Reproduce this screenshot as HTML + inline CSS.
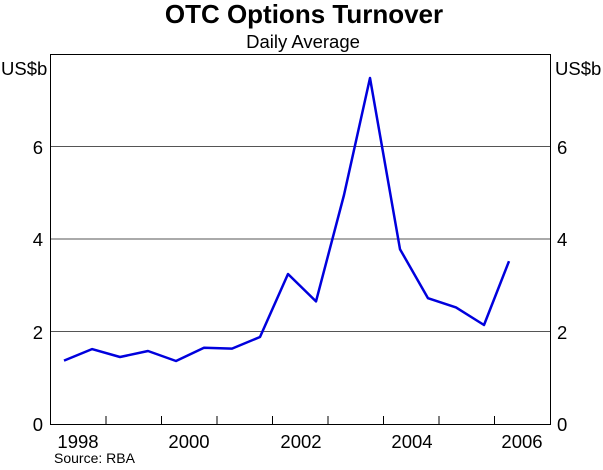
<!DOCTYPE html>
<html><head><meta charset="utf-8"><style>
body{margin:0;background:#fff;}
svg text{font-family:"Liberation Sans",Arial,sans-serif;fill:#000;}
</style></head><body>
<svg width="603" height="465" xmlns="http://www.w3.org/2000/svg">
<rect width="603" height="465" fill="#fff"/>
<text x="304" y="23" font-size="26" font-weight="bold" text-anchor="middle">OTC Options Turnover</text>
<text x="303" y="48" font-size="18.5" text-anchor="middle">Daily Average</text>
<g stroke="#000" stroke-width="1">
<line x1="50" y1="146.5" x2="550" y2="146.5" stroke="#555"/>
<line x1="50" y1="239" x2="550" y2="239" stroke="#555"/>
<line x1="50" y1="331.5" x2="550" y2="331.5" stroke="#555"/>
<rect x="50.5" y="54.5" width="500" height="370" fill="none"/>
<path d="M106,424v-8M161.5,424v-8M217,424v-8M272.5,424v-8M328,424v-8M383.5,424v-8M439,424v-8M494.5,424v-8"/>
</g>
<g font-size="18.5">
<text x="1" y="75">US$b</text>
<text x="555" y="75">US$b</text>
<text x="43" y="154" text-anchor="end">6</text>
<text x="43" y="246" text-anchor="end">4</text>
<text x="43" y="339" text-anchor="end">2</text>
<text x="43" y="431" text-anchor="end">0</text>
<text x="557" y="154">6</text>
<text x="557" y="246">4</text>
<text x="557" y="339">2</text>
<text x="557" y="431">0</text>
<text x="78" y="448" text-anchor="middle">1998</text>
<text x="189" y="448" text-anchor="middle">2000</text>
<text x="301" y="448" text-anchor="middle">2002</text>
<text x="412" y="448" text-anchor="middle">2004</text>
<text x="522" y="448" text-anchor="middle">2006</text>
</g>
<text x="54" y="463" font-size="14">Source: RBA</text>
<polyline fill="none" stroke="#0000dd" stroke-width="2.5" stroke-linejoin="round" points="64,360.6 92,349.1 120,357 148,351 176,361 204,347.7 232,348.6 260,337 288,274 316,301.4 344,195 370,78 400,249.2 428,298.2 456,307.4 484,325 509,261.2"/>
</svg>
</body></html>
